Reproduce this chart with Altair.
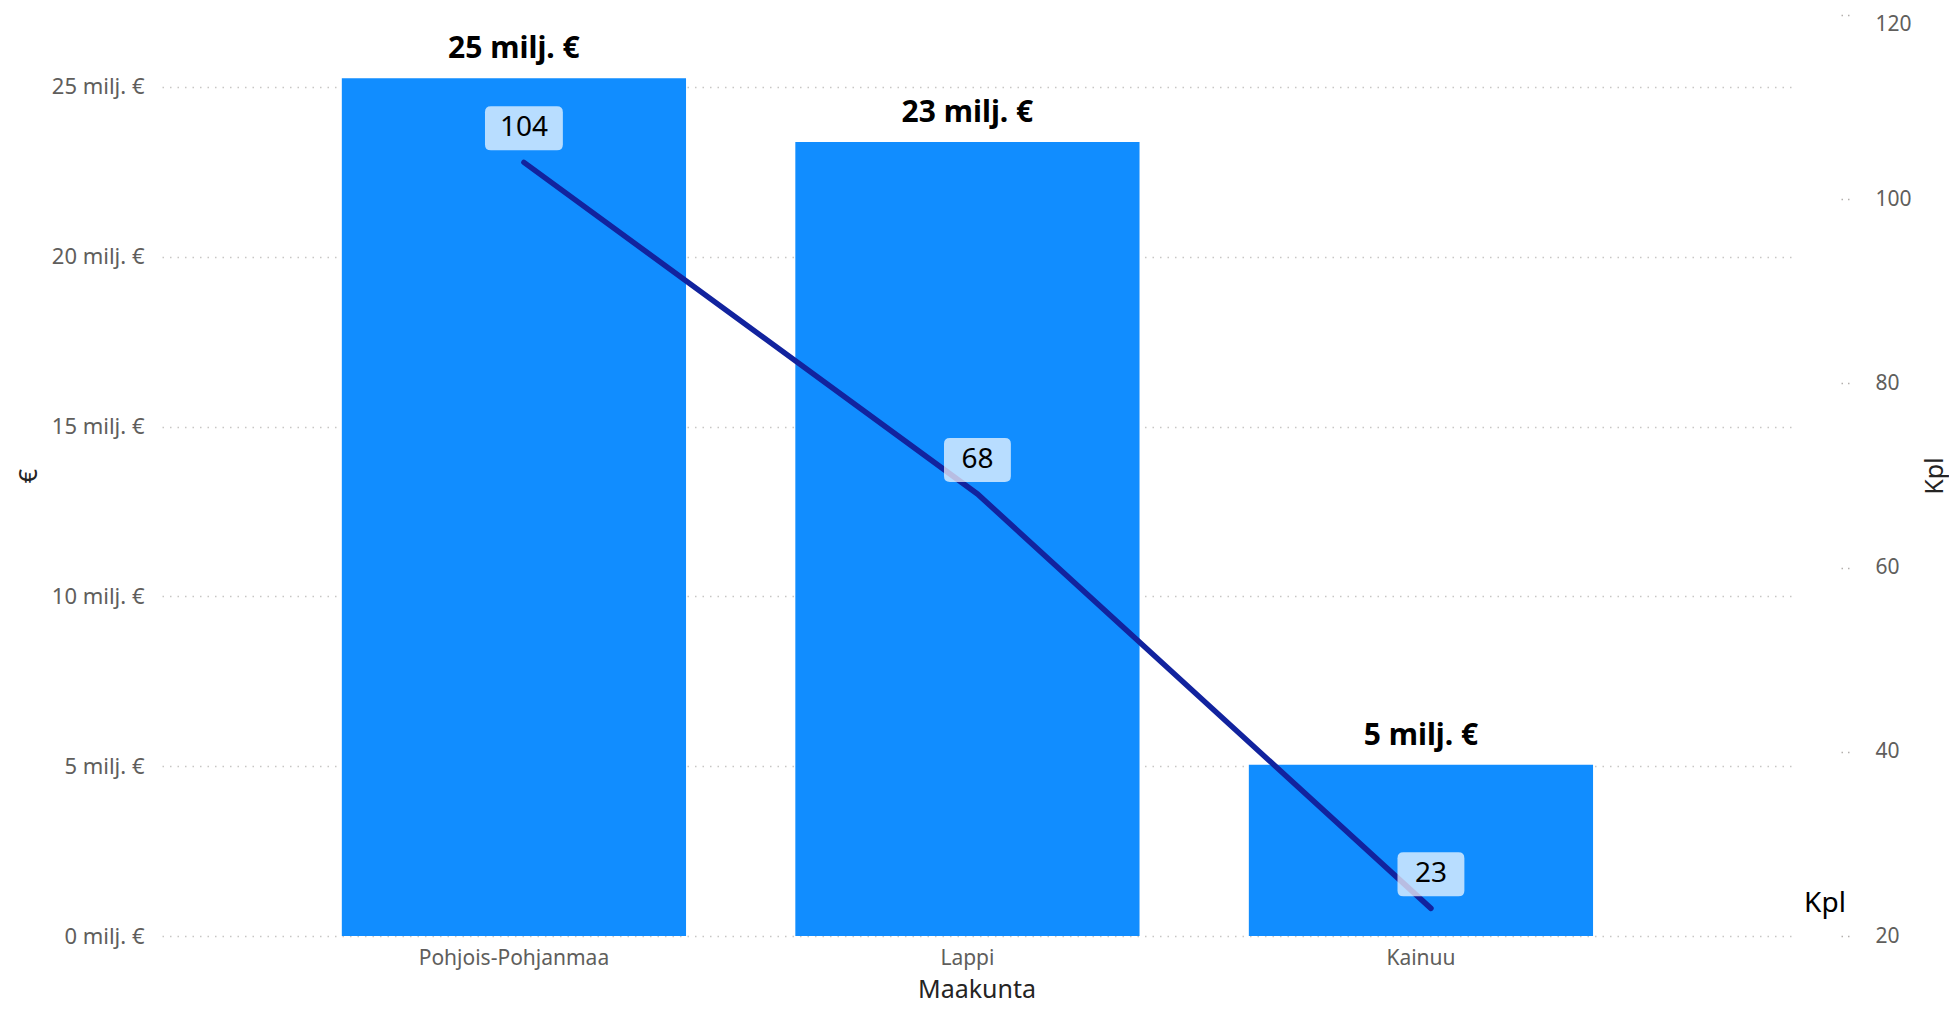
import altair as alt
import pandas as pd

maakunta = ["Pohjois-Pohjanmaa", "Lappi", "Kainuu"]
euro = [25.26e6, 23.38e6, 5.04e6]
kpl = [104, 68, 23]
left_ticks = [0, 5e6, 10e6, 15e6, 20e6, 25e6]
right_ticks = [20, 40, 60, 80, 100, 120]

df = pd.DataFrame({"Maakunta": maakunta, "eur": euro, "kpl": kpl})

FONT = "Noto Sans"
BAR = "#118DFF"
LINE = "#12239E"
LABEL = "#605E5C"
TITLE = "#252423"
LINE_SHIFT = 10


def box_path(hw, r=0.27):
    a = hw - r
    return (f"M{-a},-1 L{a},-1 Q{hw},-1 {hw},{-1 + r} L{hw},{1 - r} Q{hw},1 {a},1 "
            f"L{-a},1 Q{-hw},1 {-hw},{1 - r} L{-hw},{-1 + r} Q{-hw},-1 {-a},-1 Z")


BOX_WIDE = box_path(1.77)
BOX_NARROW = box_path(1.52)

x_axis = alt.Axis(
    title="Maakunta", labelAngle=0, ticks=False, domain=False, labelLimit=0,
    labelFont=FONT, labelFontSize=21, labelColor=LABEL, labelPadding=11,
    titleFont=FONT, titleFontSize=25, titleColor=TITLE, titleFontWeight="normal",
    titlePadding=9,
)
x_scale = alt.Scale(paddingInner=0.241, paddingOuter=0.4165, align=0.476)


def X():
    return alt.X("Maakunta:N", sort=maakunta, scale=x_scale, axis=x_axis)


y_left_scale = alt.Scale(domain=[0, 27.12e6], nice=False, zero=True)
y_left_axis = alt.Axis(
    title="€", values=left_ticks,
    labelExpr="format(datum.value / 1000000, 'd') + ' milj. €'",
    ticks=False, domain=False,
    grid=True, gridDash=[1.5, 6], gridColor="#C8C6C4", gridWidth=1.5,
    labelFont=FONT, labelFontSize=22, labelColor=LABEL, labelPadding=18,
    titleFont=FONT, titleFontSize=25, titleColor=TITLE, titleFontWeight="normal",
    titlePadding=10,
)

y_right_scale = alt.Scale(domain=[20, 120], nice=False, zero=False)
y_right_axis = alt.Axis(
    orient="right", title="Kpl", values=right_ticks,
    offset=50, domain=False, grid=False,
    ticks=True, tickSize=10, tickDash=[1.5, 5], tickColor="#B3B0AD", tickWidth=1.5,
    labelFont=FONT, labelFontSize=21, labelColor=LABEL, labelPadding=24,
    labelOffset={"condition": {"test": "datum.value == 120", "value": 9}, "value": 0},
    titleFont=FONT, titleFontSize=25, titleColor=TITLE, titleFontWeight="normal",
    titleAngle=270, titlePadding=36,
)


def YL():
    return alt.Y("eur:Q", scale=y_left_scale, axis=y_left_axis)


def YR():
    return alt.Y("kpl:Q", scale=y_right_scale, axis=y_right_axis)


base = alt.Chart(df)

bars = base.mark_bar(color=BAR).encode(x=X(), y=YL())

bar_text = base.transform_calculate(
    lbl="format(datum.eur / 1000000, '.0f') + ' milj. €'"
).mark_text(
    font=FONT, fontSize=30, fontWeight="bold", color="#000000",
    baseline="middle", dy=-29,
).encode(x=X(), y=YL(), text="lbl:N")

left = alt.layer(bars, bar_text)

line = base.mark_line(
    color=LINE, strokeWidth=5.5, strokeCap="round", xOffset=LINE_SHIFT,
).encode(x=X(), y=YR())

boxes = base.transform_calculate(
    shp=f"datum.kpl >= 100 ? '{BOX_WIDE}' : '{BOX_NARROW}'"
).mark_point(
    filled=True, color="#FFFFFF", opacity=0.7, size=1936,
    xOffset=LINE_SHIFT, yOffset=-34, strokeWidth=0,
).encode(
    x=X(), y=YR(),
    shape=alt.Shape("shp:N", scale=None, legend=None),
)

line_text = base.mark_text(
    font=FONT, fontSize=28, color="#000000", baseline="middle",
    dx=LINE_SHIFT, dy=-34,
).encode(x=X(), y=YR(), text="kpl:Q")

series_label = base.transform_filter("datum.kpl == 23").mark_text(
    font=FONT, fontSize=28, color="#000000", align="center", baseline="middle",
).encode(
    x=alt.value(1663),
    y=alt.value(889),
    text=alt.value("Kpl"),
)

right = alt.layer(line, boxes, line_text, series_label)

chart = alt.layer(left, right).resolve_scale(y="independent").properties(
    width=1629,
    height=921,
    padding={"left": 154, "top": 7, "right": 158, "bottom": 68},
    autosize=alt.AutoSizeParams(type="none"),
    background="#FFFFFF",
).configure_view(stroke=None)

chart.save("out.html", embed_options={"renderer": "svg", "actions": False})
